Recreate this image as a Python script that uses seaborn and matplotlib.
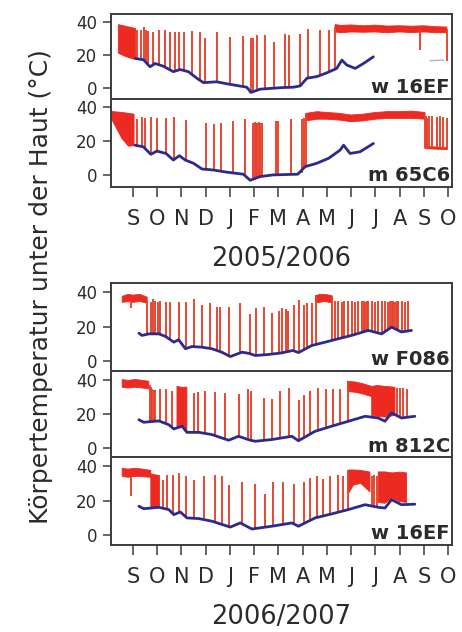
import numpy as np
import matplotlib
matplotlib.use("Agg")
import matplotlib.pyplot as plt
import seaborn as sns

nan = np.nan

# x axis: months counted from September (S = 0)
MONTHS = ["S", "O", "N", "D", "J", "F", "M", "A", "M", "J", "J", "A", "S", "O"]
SEASONS = ["2005/2006", "2006/2007"]
LABELS = ["w 16EF", "m 65C6", "w F086", "m 812C", "w 16EF"]
YLABEL = "Körpertemperatur unter der Haut (°C)"

# ---- w 16EF, 2005/2006 ----
A_BLUE_X = [0.09, 0.44, 0.71, 0.92, 1.26, 1.67, 1.95, 2.29, 2.64, 2.91, 3.46, 3.80, 4.15, 4.70, 4.87,
            5.25, 5.80, 6.20, 6.62, 6.90, 7.18, 7.59, 8.00, 8.41, 8.62, 8.82, 9.17, 9.51, 9.92]
A_BLUE_Y = [17.8, 17.0, 12.7, 14.7, 13.0, 9.7, 11.0, 9.7, 5.7, 3.0, 3.5, 2.5, 1.6, 0.2, -3.0,
            -1.0, -0.4, 0.0, 0.2, 1.0, 5.7, 6.7, 9.0, 11.7, 16.8, 13.8, 11.7, 14.7, 18.8]
A_SPIKE_X = [0.16, 0.34, 0.44, 0.55, 0.64, 0.85, 1.07, 1.33, 1.54, 1.72, 1.91, 2.09, 2.43, 2.78, 2.99, 3.46,
             4.01, 4.54, 4.87, 4.97, 5.11, 5.46, 5.84, 6.28, 6.46, 6.90, 7.24, 7.72, 8.11, 8.34, 11.85, 12.95]
A_SPIKE_TOP = [35.4, 35.0, 37.0, 35.4, 34.8, 34.0, 35.0, 35.4, 34.0, 34.0, 34.0, 34.0, 34.5, 34.0, 30.0, 34.0,
               31.0, 31.5, 30.0, 30.5, 32.0, 32.0, 28.0, 33.0, 32.0, 33.0, 36.0, 35.0, 35.0, 37.0, 35.0, 36.0]
A_SPIKE_BASE = [17.6, 17.2, 17.0, 15.2, 13.8, 14.0, 14.0, 12.5, 10.7, 9.9, 10.8, 10.4, 8.1, 4.3, 3.1, 3.5,
                2.0, 0.7, -3.0, -2.5, -1.7, -0.8, -0.4, 0.0, 0.1, 1.0, 5.9, 7.4, 9.7, 11.5, 23.0, 16.0]
A_BAND_X = [-0.6, -0.3, 0.0, 0.12, nan, 8.34, 8.6, 9.0, 9.5, 10.0, 10.5, 11.0, 11.5, 12.0, 12.5, 12.95]
A_BAND_TOP = [38.5, 37.5, 36.5, 36.0, nan, 38.5, 38.0, 38.3, 37.8, 38.2, 37.6, 37.8, 37.5, 37.8, 37.2, 37.0]
A_BAND_BOT = [21.0, 19.0, 17.5, 17.5, nan, 34.0, 33.5, 34.0, 33.8, 34.0, 33.5, 34.0, 33.6, 34.0, 33.5, 33.5]
A_GRAY_X = [12.26, 12.81]
A_GRAY_Y = [16.4, 16.8]

# ---- m 65C6, 2005/2006 ----
B_BLUE_X = [0.09, 0.44, 0.74, 0.99, 1.37, 1.67, 1.92, 2.16, 2.50, 2.85, 3.32, 3.88, 4.56, 4.84, 5.25,
            5.80, 6.30, 6.80, 7.11, 7.59, 8.07, 8.55, 8.69, 8.96, 9.37, 9.92]
B_BLUE_Y = [17.6, 16.6, 12.2, 14.1, 12.7, 8.8, 11.4, 8.8, 6.9, 3.5, 2.9, 1.6, 0.4, -3.2, -1.0,
            0.0, 0.2, 0.4, 4.9, 6.9, 9.8, 14.7, 17.6, 12.7, 13.7, 18.6]
B_SPIKE_X = [0.16, 0.37, 0.51, 0.74, 1.01, 1.37, 1.70, 2.20, 3.01, 3.35, 3.63, 4.12, 4.64,
             4.95, 5.02, 5.08, 5.14, 5.20, 5.26, 5.32, 5.91, 6.00, 6.52, 6.97, 7.05, 7.13,
             12.05, 12.10, 12.15, 12.20, 12.33, 12.54, 12.67, 12.81, 12.97]
B_SPIKE_TOP = [33.3, 34.3, 33.7, 34.3, 33.7, 33.7, 34.3, 32.8, 31.0, 30.4, 31.0, 31.8, 33.0,
               31.0, 31.5, 31.0, 31.0, 31.5, 31.0, 31.0, 31.8, 31.8, 33.3, 33.0, 34.0, 36.5,
               35.0, 35.0, 34.0, 35.0, 35.0, 34.5, 35.0, 34.5, 34.0]
B_SPIKE_BASE = [17.5, 16.8, 15.6, 12.2, 14.0, 12.7, 9.1, 8.6, 3.3, 2.9, 2.2, 1.2, -0.5,
                -2.4, -2.0, -1.7, -1.4, -1.2, -1.0, -0.9, 0.0, 0.1, 0.3, 1.0, 3.5, 5.0,
                16.0, 16.0, 16.0, 16.0, 16.0, 15.8, 15.8, 15.6, 15.5]
B_BAND_X = [-0.87, -0.8, -0.45, -0.18, 0.05, nan,
            7.15, 7.6, 8.0, 8.5, 9.0, 9.5, 10.0, 10.5, 11.0, 11.5, 12.05, nan, 12.05, 12.97]
B_BAND_TOP = [37.5, 37.5, 37.0, 36.5, 36.0, nan,
              36.5, 37.5, 37.0, 36.5, 35.5, 36.0, 37.0, 37.5, 37.5, 37.8, 37.0, nan, 16.8, 16.3]
B_BAND_BOT = [33.0, 31.0, 21.6, 17.0, 17.3, nan,
              32.0, 33.0, 33.0, 32.5, 31.5, 32.0, 33.0, 33.5, 33.5, 33.5, 33.0, nan, 15.5, 15.0]

# ---- w F086, 2006/2007 ----
C_BLUE_X = [0.25, 0.38, 0.66, 1.07, 1.35, 1.69, 1.89, 2.17, 2.44, 2.85, 3.26, 3.67, 4.02, 4.50, 4.80,
            5.05, 5.60, 6.14, 6.60, 6.83, 7.38, 7.93, 8.48, 9.02, 9.71, 10.26, 10.67, 11.08, 11.49]
C_BLUE_Y = [16.2, 14.9, 15.8, 15.8, 14.3, 11.0, 12.4, 7.2, 8.5, 8.1, 7.2, 5.2, 2.7, 5.2, 4.5,
            3.3, 3.9, 4.8, 6.2, 5.0, 9.1, 11.0, 13.0, 14.9, 17.8, 15.8, 19.7, 16.9, 17.8]
C_SPIKE_X = [-0.09, 0.59, 0.73, 0.82, 0.93, 1.04, 1.14, 1.37, 1.55, 1.89, 2.21, 2.51, 2.85, 3.20, 3.47,
             3.61, 3.95, 4.43, 4.82, 5.09, 5.39, 5.73, 6.03, 6.16, 6.30, 6.40, 6.63, 6.86, 7.04, 7.17,
             7.38, 7.54, 8.22,
             8.34, 8.48, 8.61, 8.72, 8.86, 9.02, 9.16, 9.27, 9.44, 9.52, 9.57, 9.64, 9.71, 9.85,
             9.99, 10.12, 10.26, 10.40, 10.53, 10.60, 10.67, 10.74, 10.81, 10.88, 10.95, 11.08, 11.22, 11.36]
C_SPIKE_TOP = [35.0, 35.0, 34.4, 36.0, 35.0, 34.4, 35.0, 34.4, 34.4, 34.4, 34.4, 36.2, 32.3, 33.6, 31.3,
               31.3, 31.6, 33.6, 27.0, 30.5, 31.3, 27.8, 29.0, 30.8, 30.0, 29.0, 32.3, 35.3, 32.5, 33.6,
               33.9, 38.0, 37.0,
               34.5, 35.0, 34.0, 35.0, 34.5, 35.0, 34.0, 35.0, 34.5, 35.0, 34.0, 35.0, 34.5, 35.0,
               34.0, 35.0, 34.5, 35.0, 34.0, 35.0, 34.5, 35.0, 34.0, 35.0, 34.5, 35.0, 34.0, 35.0]
C_SPIKE_BASE = [31.0, 15.6, 15.8, 15.8, 15.8, 15.8, 15.4, 14.2, 12.3, 12.4, 7.4, 8.4, 8.1, 7.3, 6.2,
                5.5, 3.2, 4.8, 4.4, 3.3, 3.6, 4.1, 4.6, 4.9, 5.4, 5.7, 6.1, 5.2, 6.6, 7.6,
                9.1, 9.5, 11.8,
                12.5, 13.0, 13.5, 14.0, 14.4, 14.9, 15.5, 15.9, 16.7, 17.0, 17.2, 17.5, 17.8, 17.3,
                16.8, 16.3, 15.8, 17.1, 18.6, 19.1, 19.7, 19.2, 18.7, 18.3, 17.8, 16.9, 17.2, 17.5]
C_BAND_X = [-0.44, -0.2, 0.0, 0.3, 0.59, nan, 7.54, 7.7, 7.9, 8.1, 8.22]
C_BAND_TOP = [37.5, 38.6, 38.2, 38.6, 37.0, nan, 37.8, 38.6, 38.6, 38.2, 37.8]
C_BAND_BOT = [34.0, 34.4, 34.0, 34.5, 33.5, nan, 34.0, 34.0, 34.5, 34.0, 34.0]

# ---- m 812C, 2006/2007 ----
D_BLUE_X = [0.25, 0.45, 1.07, 1.48, 1.69, 2.03, 2.23, 2.72, 3.26, 3.95, 4.36, 4.84, 5.05,
            5.73, 6.56, 6.83, 7.51, 8.20, 8.89, 9.58, 10.12, 10.40, 10.67, 11.08, 11.63]
D_BLUE_Y = [16.5, 15.0, 15.8, 13.6, 11.1, 12.7, 9.1, 9.1, 7.8, 4.5, 6.8, 4.5, 3.9,
            4.9, 6.8, 4.2, 9.7, 12.7, 15.6, 18.5, 17.5, 15.6, 20.5, 17.5, 18.5]
D_SPIKE_X = [0.70, 0.75, 0.80, 0.86, 0.93, 1.14, 1.35, 1.62, 2.51, 2.69, 2.99, 3.40, 3.81, 4.36, 4.75,
             4.88, 5.39, 5.73, 6.08, 6.42, 6.86, 7.04, 7.31, 7.65, 7.96, 8.27, 8.55, 8.86,
             10.88, 11.02, 11.15, 11.29]
D_SPIKE_TOP = [37.0, 35.5, 34.5, 34.0, 34.0, 34.6, 34.6, 33.5, 32.3, 32.8, 33.5, 32.8, 32.3, 31.3, 34.2,
               33.0, 29.3, 28.5, 33.0, 35.0, 28.0, 30.8, 33.3, 35.3, 34.2, 34.2, 34.6, 39.0,
               35.0, 35.0, 35.0, 34.5]
D_SPIKE_BASE = [15.6, 15.6, 15.7, 15.7, 15.7, 15.8, 14.5, 12.0, 9.1, 9.1, 8.8, 7.2, 5.2, 6.8, 4.9,
                4.4, 4.4, 4.9, 5.7, 6.5, 4.4, 6.0, 8.1, 10.3, 11.6, 13.0, 14.2, 15.5,
                18.2, 17.3, 17.5, 17.8]
D_BAND_X = [-0.44, -0.2, 0.1, 0.4, 0.66, nan, 1.82, 2.0, 2.23, nan,
            8.86, 9.2, 9.5, 9.85, nan, 9.85, 10.1, 10.4, 10.81]
D_BAND_TOP = [40.0, 39.5, 40.0, 39.5, 39.0, nan, 36.0, 35.5, 35.5, nan,
              39.0, 38.5, 37.5, 36.0, nan, 36.0, 36.5, 36.0, 35.5]
D_BAND_BOT = [35.5, 35.0, 35.5, 35.0, 34.5, nan, 11.8, 12.7, 9.1, nan,
              33.0, 32.5, 31.5, 30.0, nan, 19.0, 18.5, 18.0, 19.0]

# ---- w 16EF, 2006/2007 ----
E_BLUE_X = [0.25, 0.45, 1.07, 1.48, 1.69, 1.96, 2.23, 2.72, 3.26, 4.02, 4.43, 4.91,
            5.73, 6.56, 6.83, 7.52, 8.20, 8.89, 9.58, 10.12, 10.40, 10.67, 11.08, 11.63]
E_BLUE_Y = [16.8, 15.4, 16.2, 14.9, 12.0, 13.5, 10.1, 9.7, 8.2, 4.8, 7.2, 3.7,
            5.3, 7.2, 5.3, 10.1, 12.4, 14.9, 17.7, 16.2, 15.8, 20.6, 17.7, 18.0]
E_SPIKE_X = [-0.09, 1.23, 1.41, 1.65, 1.92, 2.21, 2.54, 2.92, 3.40, 3.67, 3.98, 4.50, 5.05, 5.46,
             5.80, 6.21, 6.63, 7.04, 7.31, 7.61, 7.86, 8.14, 8.45, 8.68, 8.89, 9.85, 9.95, 10.05]
E_SPIKE_TOP = [34.0, 32.0, 34.8, 34.8, 35.8, 34.3, 32.0, 34.3, 34.8, 34.3, 29.1, 31.0, 29.7, 23.6,
               31.0, 31.0, 29.7, 31.0, 33.0, 34.0, 32.6, 34.0, 34.7, 34.0, 37.7, 34.0, 35.0, 34.0]
E_SPIKE_BASE = [22.5, 15.7, 15.1, 12.5, 13.3, 10.3, 9.9, 9.0, 7.5, 6.2, 5.0, 6.6, 4.0, 4.9,
                5.4, 6.4, 6.5, 6.7, 8.6, 10.4, 11.3, 12.2, 13.3, 14.1, 14.9, 17.0, 16.6, 16.3]
E_BAND_X = [-0.44, -0.2, 0.1, 0.4, 0.74, nan, 0.74, 0.9, 1.1, nan,
            8.89, 9.1, 9.4, 9.78, nan, 10.12, 10.4, 10.7, 11.0, 11.29]
E_BAND_TOP = [38.7, 38.2, 38.7, 38.2, 37.5, nan, 35.5, 35.0, 34.5, nan,
              37.7, 37.7, 37.5, 36.5, nan, 36.6, 36.6, 36.0, 36.5, 36.0]
E_BAND_BOT = [34.0, 33.5, 34.0, 33.8, 33.5, nan, 16.5, 16.5, 16.2, nan,
              24.0, 29.0, 30.0, 25.0, nan, 19.0, 18.5, 21.5, 19.5, 19.0]

RED_FILL = "#ec2a22"
RED_SPIKE = "#e6412c"
BLUE = "#2a2c8c"
FRAME = "#3c3c3c"
TEXT = "#2b2b2b"

sns.set_theme(style="ticks")
plt.rcParams["font.family"] = ["DejaVu Sans"]

panels = [
    (A_BLUE_X, A_BLUE_Y, A_SPIKE_X, A_SPIKE_TOP, A_SPIKE_BASE, A_BAND_X, A_BAND_TOP, A_BAND_BOT),
    (B_BLUE_X, B_BLUE_Y, B_SPIKE_X, B_SPIKE_TOP, B_SPIKE_BASE, B_BAND_X, B_BAND_TOP, B_BAND_BOT),
    (C_BLUE_X, C_BLUE_Y, C_SPIKE_X, C_SPIKE_TOP, C_SPIKE_BASE, C_BAND_X, C_BAND_TOP, C_BAND_BOT),
    (D_BLUE_X, D_BLUE_Y, D_SPIKE_X, D_SPIKE_TOP, D_SPIKE_BASE, D_BAND_X, D_BAND_TOP, D_BAND_BOT),
    (E_BLUE_X, E_BLUE_Y, E_SPIKE_X, E_SPIKE_TOP, E_SPIKE_BASE, E_BAND_X, E_BAND_TOP, E_BAND_BOT),
]

# axes rectangles (figure fraction)
positions = [
    (0.2403, 0.8434, 0.7374, 0.1345),
    (0.2403, 0.7046, 0.7374, 0.1388),
    (0.2403, 0.4134, 0.7374, 0.1383),
    (0.2403, 0.2764, 0.7374, 0.1366),
    (0.2403, 0.1377, 0.7374, 0.1387),
]
ylims = [(-7, 45), (-7, 45), (-5.5, 45), (-5.5, 45), (-5.5, 45)]

fig = plt.figure(figsize=(4.62, 6.32), dpi=100)

for i, (pos, data) in enumerate(zip(positions, panels)):
    bx, by, sx, stop, sbase, fx, ftop, fbot = data
    ax = fig.add_axes(pos)
    ax.fill_between(fx, fbot, ftop, color=RED_FILL, lw=0.6, edgecolor=RED_FILL, zorder=2)
    ax.vlines(sx, sbase, stop, color=RED_SPIKE, lw=1.35, zorder=2)
    if i == 0:
        ax.plot(A_GRAY_X, A_GRAY_Y, color="#aab2c4", lw=1.0, zorder=1)
    sns.lineplot(x=bx, y=by, ax=ax, color=BLUE, lw=2.0, sort=False, estimator=None, zorder=3)

    ax.set_xlim(-0.9, 13.15)
    ax.set_ylim(*ylims[i])
    ax.set_yticks([0, 20, 40])
    ax.tick_params(axis="y", labelsize=12, length=6, width=1.1, color=FRAME, labelcolor=TEXT, pad=4)
    for sp in ax.spines.values():
        sp.set_visible(True)
        sp.set_color(FRAME)
        sp.set_linewidth(1.4)
    ax.set_xlabel("")
    ax.set_ylabel("")
    if i in (1, 4):
        ax.set_xticks(range(len(MONTHS)))
        ax.set_xticklabels(MONTHS)
        ax.tick_params(axis="x", labelsize=15, length=7, width=1.1, color=FRAME,
                       labelcolor=TEXT, pad=9)
    else:
        ax.set_xticks([])
    ax.text(0.995, 0.065, LABELS[i], transform=ax.transAxes, ha="right", va="baseline",
            fontsize=14, fontweight="bold", color=TEXT, zorder=5)

fig.text(0.609, 0.5902, SEASONS[0], ha="center", va="center", fontsize=18.5, color=TEXT)
fig.text(0.609, 0.0245, SEASONS[1], ha="center", va="center", fontsize=18.5, color=TEXT)
fig.text(0.0887, 0.5467, YLABEL, rotation=90, ha="center", va="center", fontsize=18, color=TEXT)

fig.savefig("out.png", dpi=100)
